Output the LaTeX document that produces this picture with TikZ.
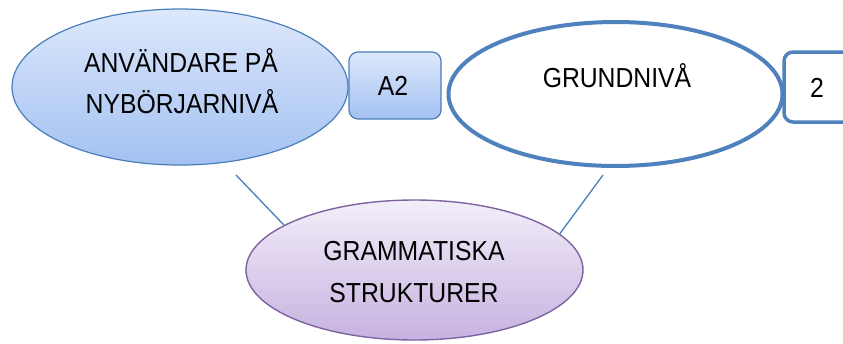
\documentclass[tikz,border=0pt]{standalone}
\usepackage{fontspec}
\setmainfont{Liberation Sans}
\newfontfamily\condfont[FakeStretch=0.9]{Liberation Sans}
\usetikzlibrary{shapes.geometric}
\definecolor{blueline}{HTML}{4A7EBB}
\definecolor{bluetop}{HTML}{DDE8FB}
\definecolor{bluebot}{HTML}{A3C1F2}
\definecolor{thickblue}{HTML}{4F81BD}
\definecolor{purpline}{HTML}{7F62A1}
\definecolor{purptop}{HTML}{F3EEF9}
\definecolor{purpbot}{HTML}{C6B2E0}
\tikzset{
  lbl/.style={anchor=base, inner sep=0pt, font=\condfont\fontsize{27.5}{30}\selectfont, text=black},
  blueell/.style={ellipse, draw=blueline, line width=1.2pt, top color=bluetop, bottom color=bluebot, inner sep=0pt},
  thickell/.style={ellipse, draw=thickblue, line width=4pt, fill=white, inner sep=0pt},
  purpell/.style={ellipse, draw=purpline, line width=1.4pt, top color=purptop, bottom color=purpbot, inner sep=0pt},
  bluebox/.style={rectangle, rounded corners=9pt, draw=blueline, line width=1.2pt, top color=bluetop, bottom color=bluebot, inner sep=0pt},
  thickbox/.style={rectangle, rounded corners=9pt, draw=thickblue, line width=3.5pt, fill=white, inner sep=0pt},
  conn/.style={draw=blueline, line width=1.3pt}
}
\begin{document}
\begin{tikzpicture}[x=1pt,y=-1pt]
\clip (0,0) rectangle (843,343);
\useasboundingbox (0,0) rectangle (843,343);
% nodes
\node[blueell, minimum width=336pt, minimum height=156pt] (user) at (180,87) {};
\node[bluebox, minimum width=92pt, minimum height=67pt] (a2) at (395,85.5) {};
\node[thickell, minimum width=334pt, minimum height=144pt] (grund) at (615.5,94) {};
\node[thickbox, minimum width=100pt, minimum height=70pt] (two) at (834,87) {};
\node[purpell, minimum width=337pt, minimum height=140pt] (gram) at (414.5,270) {};
% texts
\node[lbl] (t1) at (181,72) {ANVÄNDARE PÅ};
\node[lbl] (t2) at (182,113) {NYBÖRJARNIVÅ};
\node[lbl] (t3) at (393,95) {A2};
\node[lbl] (t4) at (617,87) {GRUNDNIVÅ};
\node[lbl] (t5) at (817,97) {2};
\node[lbl] (t6) at (414,260) {GRAMMATISKA};
\node[lbl] (t7) at (414,302) {STRUKTURER};
% connectors
\coordinate (c1) at (236,175);
\coordinate (c2) at (603,175);
\draw[conn] (c1) -- (gram.161.4);
\draw[conn] (c2) -- (gram.14.8);
\end{tikzpicture}
\end{document}
